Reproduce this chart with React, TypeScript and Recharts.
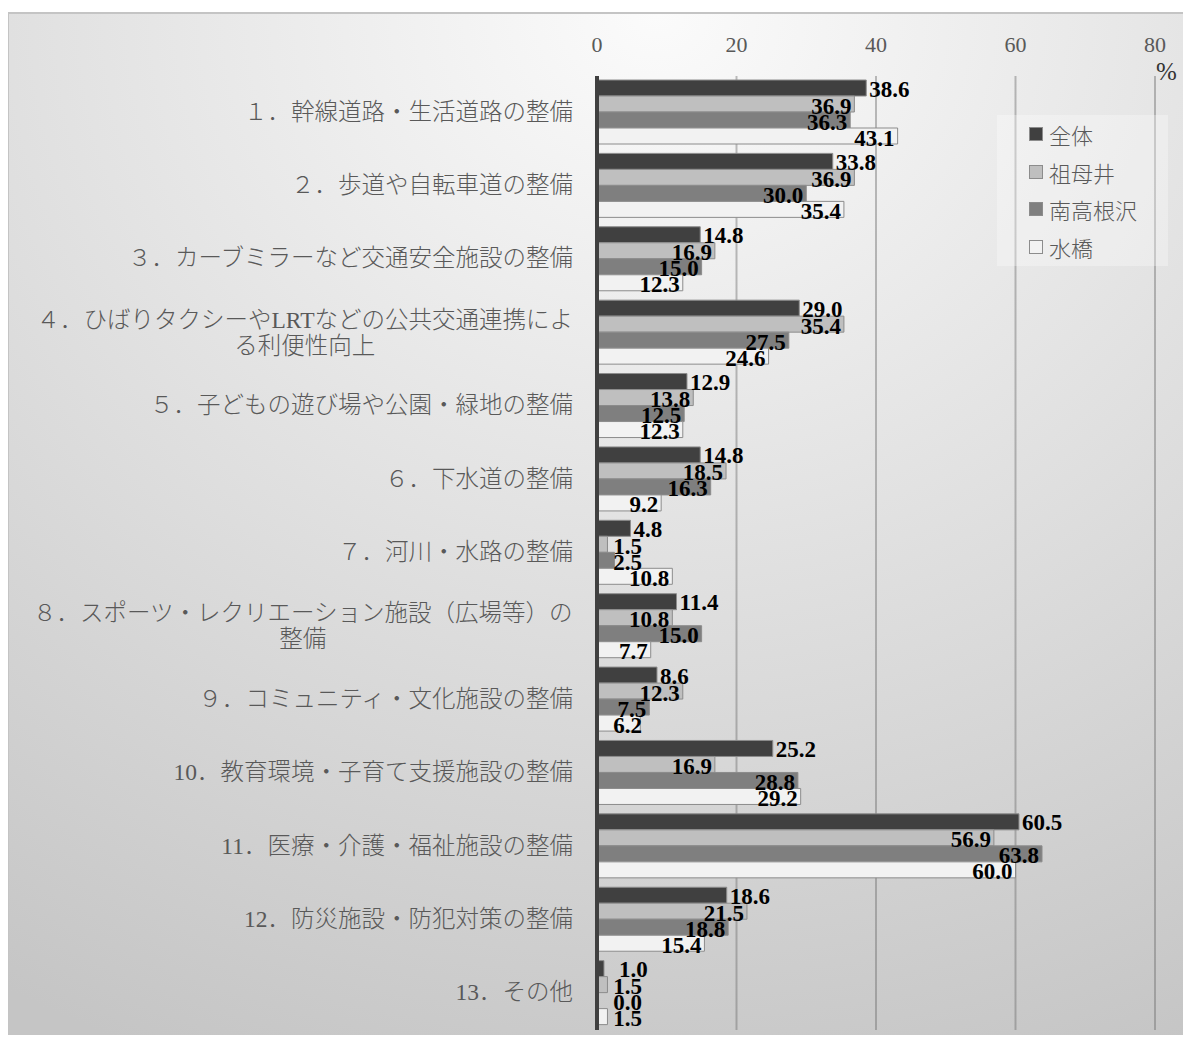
import React from 'react';
import { BarChart, Bar, XAxis, YAxis, CartesianGrid, Legend, LabelList } from 'recharts';

// 整備の優先度（複数回答、%）
const categories = [
  '１．幹線道路・生活道路の整備',
  '２．歩道や自転車道の整備',
  '３．カーブミラーなど交通安全施設の整備',
  '４．ひばりタクシーやLRTなどの公共交通連携によ\nる利便性向上',
  '５．子どもの遊び場や公園・緑地の整備',
  '６．下水道の整備',
  '７．河川・水路の整備',
  '８．スポーツ・レクリエーション施設（広場等）の\n整備',
  '９．コミュニティ・文化施設の整備',
  '10．教育環境・子育て支援施設の整備',
  '11．医療・介護・福祉施設の整備',
  '12．防災施設・防犯対策の整備',
  '13．その他',
];

const zentai = [38.6, 33.8, 14.8, 29.0, 12.9, 14.8, 4.8, 11.4, 8.6, 25.2, 60.5, 18.6, 1.0];
const ubagai = [36.9, 36.9, 16.9, 35.4, 13.8, 18.5, 1.5, 10.8, 12.3, 16.9, 56.9, 21.5, 1.5];
const minamiTakanezawa = [36.3, 30.0, 15.0, 27.5, 12.5, 16.3, 2.5, 15.0, 7.5, 28.8, 63.8, 18.8, 0.0];
const mizuhashi = [43.1, 35.4, 12.3, 24.6, 12.3, 9.2, 10.8, 7.7, 6.2, 29.2, 60.0, 15.4, 1.5];

const xTicks = [0, 20, 40, 60, 80];

const series = [
  { key: 'zentai', name: '全体', fill: '#404040', outside: true },
  { key: 'ubagai', name: '祖母井', fill: '#bfbfbf', outside: false },
  { key: 'minamiTakanezawa', name: '南高根沢', fill: '#7f7f7f', outside: false },
  { key: 'mizuhashi', name: '水橋', fill: '#f2f2f2', outside: false },
];

const data = categories.map((name, i) => ({
  name,
  zentai: zentai[i],
  ubagai: ubagai[i],
  minamiTakanezawa: minamiTakanezawa[i],
  mizuhashi: mizuhashi[i],
}));

const CAT_FONT = "'Liberation Serif', 'Noto Sans CJK JP', sans-serif";
const CAT_SIZE = 23.5;
const NUM_FONT = "'Liberation Serif', 'DejaVu Serif', serif";
const BAR_STROKE = '#8c8c8c';

let measureCtx: CanvasRenderingContext2D | null = null;
const measureText = (s: string) => {
  if (!measureCtx) measureCtx = document.createElement('canvas').getContext('2d');
  if (!measureCtx) return s.length * CAT_SIZE;
  measureCtx.font = `300 ${CAT_SIZE}px ${CAT_FONT}`;
  return measureCtx.measureText(s).width;
};

// category names, right aligned; wrapped names are centred on their first line
const CategoryTick = (props: any) => {
  const { x, y, payload } = props;
  const lines = String(payload.value).split('\n');
  const common = {
    fontFamily: CAT_FONT,
    fontSize: CAT_SIZE,
    fontWeight: 300,
    fill: '#595959',
    dominantBaseline: 'central' as const,
  };
  if (lines.length === 1) {
    return (
      <text x={x} y={y - 1} textAnchor="end" {...common}>
        {lines[0]}
      </text>
    );
  }
  const cx = x - measureText(lines[0]) / 2;
  const lineH = 26;
  const top = y - ((lines.length - 1) * lineH) / 2;
  return (
    <g>
      {lines.map((line, i) => (
        <text key={i} x={cx} y={top + i * lineH} textAnchor="middle" {...common}>
          {line}
        </text>
      ))}
    </g>
  );
};

const labelStyle = {
  fontFamily: NUM_FONT,
  fontSize: 23,
  fontWeight: 'bold' as const,
  fill: '#000',
  dominantBaseline: 'central' as const,
};

// 全体: value just past the end of the bar
const OutsideLabel = (props: any) => {
  const { x, y, width, height, value } = props;
  const tx = Math.max(x + width + 3, x + 22);
  return (
    <text x={tx} y={y + height / 2 + 1} textAnchor="start" {...labelStyle}>
      {Number(value).toFixed(1)}
    </text>
  );
};

// other areas: value inside the bar end, kept clear of the axis for short bars
const InsideEndLabel = (props: any) => {
  const { x, y, width, height, value } = props;
  const tx = Math.max(x + width - 3, x + 45);
  return (
    <text x={tx} y={y + height / 2 + 2} textAnchor="end" {...labelStyle}>
      {Number(value).toFixed(1)}
    </text>
  );
};

const LegendBox = () => (
  <div
    style={{
      width: 171,
      height: 151,
      background: 'rgba(255,255,255,0.3)',
      fontFamily: "'Noto Sans CJK JP', sans-serif",
      fontWeight: 300,
      fontSize: 22,
      color: '#595959',
    }}
  >
    {series.map((s) => (
      <div key={s.key} style={{ height: 37.7, display: 'flex', alignItems: 'center' }}>
        <span
          style={{
            display: 'inline-block',
            width: 14,
            height: 14,
            boxSizing: 'border-box',
            marginLeft: 32,
            marginRight: 6,
            background: s.fill,
            border: `1px solid ${BAR_STROKE}`,
          }}
        />
        <span style={{ lineHeight: 1 }}>{s.name}</span>
      </div>
    ))}
  </div>
);

// a 0 % answer still needs its label, so keep a hairline rect for it
const zeroKeeper = (value: any) => (Number(value) === 0 ? 0.01 : 0);

export default function App() {
  return (
    <div style={{ position: 'relative', width: 1191, height: 1043, margin: -8, overflow: 'hidden' }}>
      <div
        style={{
          position: 'absolute',
          left: 7,
          top: 12,
          width: 1183,
          height: 1029,
          boxSizing: 'border-box',
          border: '2px solid #c4c4c4',
          background: 'radial-gradient(110% 110% at 55% 0%, #fbfbfb 0%, #c5c5c5 100%)',
        }}
      />
      <div style={{ position: 'absolute', left: 0, top: 0 }}>
        <BarChart
          width={1191}
          height={1043}
          data={data}
          layout="vertical"
          margin={{ top: 0, right: 36, bottom: 13, left: 0 }}
          barCategoryGap={4}
          barGap={0}
        >
          <CartesianGrid horizontal={false} stroke="#6e6e6e" strokeOpacity={0.45} strokeWidth={2} />
          <XAxis
            type="number"
            orientation="top"
            domain={[0, 80]}
            ticks={xTicks}
            interval={0}
            height={76}
            axisLine={false}
            tickLine={false}
            tickSize={0}
            tickMargin={24}
            tick={{ fill: '#595959', fontSize: 22, fontFamily: NUM_FONT }}
          />
          <YAxis
            type="category"
            dataKey="name"
            width={597}
            interval={0}
            axisLine={{ stroke: '#404040', strokeWidth: 4 }}
            tickLine={false}
            tickSize={0}
            tickMargin={24}
            tick={<CategoryTick />}
          />
          <Legend
            layout="vertical"
            align="center"
            verticalAlign="middle"
            wrapperStyle={{ left: 997, top: 115, width: 171, height: 151 }}
            content={() => <LegendBox />}
          />
          {series.map((s) => (
            <Bar
              key={s.key}
              dataKey={s.key}
              name={s.name}
              fill={s.fill}
              stroke={BAR_STROKE}
              strokeWidth={1}
              minPointSize={zeroKeeper}
              isAnimationActive={false}
            >
              <LabelList dataKey={s.key} content={s.outside ? <OutsideLabel /> : <InsideEndLabel />} />
            </Bar>
          ))}
        </BarChart>
      </div>
      <div
        style={{
          position: 'absolute',
          left: 1156,
          top: 59,
          fontFamily: NUM_FONT,
          fontSize: 25,
          lineHeight: '25px',
          color: '#333',
        }}
      >
        %
      </div>
    </div>
  );
}
